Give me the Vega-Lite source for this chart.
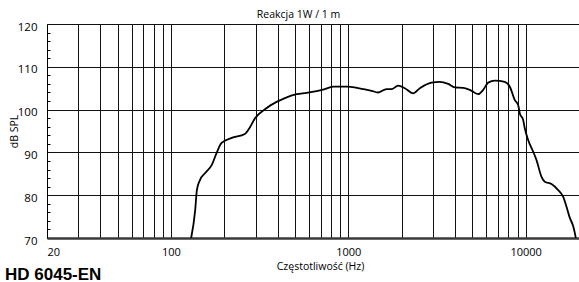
{
  "$schema": "https://vega.github.io/schema/vega-lite/v6.json",
  "width": 532,
  "height": 214,
  "autosize": {"type": "none"},
  "padding": {"left": 47, "top": 24, "right": 0, "bottom": 44},
  "background": "white",
  "title": {
    "text": "HD 6045-EN",
    "orient": "bottom",
    "anchor": "start",
    "frame": "group",
    "dx": -42,
    "offset": -5,
    "font": "Liberation Sans",
    "fontSize": 17,
    "fontWeight": "bold",
    "color": "#000000"
  },
  "data": {
    "values": [
      {"f": 130, "db": 70.0},
      {"f": 137, "db": 76.5},
      {"f": 140, "db": 81.2},
      {"f": 146, "db": 83.6},
      {"f": 156, "db": 85.2},
      {"f": 170, "db": 87.1},
      {"f": 181, "db": 89.9},
      {"f": 193, "db": 92.2},
      {"f": 220, "db": 93.4},
      {"f": 261, "db": 94.3},
      {"f": 279, "db": 95.9},
      {"f": 298, "db": 98.0},
      {"f": 339, "db": 100.1},
      {"f": 394, "db": 101.8},
      {"f": 439, "db": 102.7},
      {"f": 511, "db": 103.6},
      {"f": 582, "db": 103.9},
      {"f": 663, "db": 104.3},
      {"f": 722, "db": 104.65},
      {"f": 822, "db": 105.35},
      {"f": 995, "db": 105.35},
      {"f": 1213, "db": 104.8},
      {"f": 1353, "db": 104.4},
      {"f": 1468, "db": 104.0},
      {"f": 1644, "db": 104.8},
      {"f": 1754, "db": 104.8},
      {"f": 1911, "db": 105.6},
      {"f": 2084, "db": 105.0},
      {"f": 2322, "db": 103.8},
      {"f": 2533, "db": 105.0},
      {"f": 2948, "db": 106.3},
      {"f": 3284, "db": 106.5},
      {"f": 3658, "db": 106.0},
      {"f": 3990, "db": 105.2},
      {"f": 4444, "db": 105.1},
      {"f": 4847, "db": 104.6},
      {"f": 5400, "db": 103.6},
      {"f": 5761, "db": 104.6},
      {"f": 6148, "db": 106.3},
      {"f": 6708, "db": 106.75},
      {"f": 7633, "db": 106.45},
      {"f": 8147, "db": 105.35},
      {"f": 8693, "db": 102.2},
      {"f": 9073, "db": 101.1},
      {"f": 9276, "db": 99.1},
      {"f": 9682, "db": 97.6},
      {"f": 9898, "db": 95.6},
      {"f": 10333, "db": 92.9},
      {"f": 11025, "db": 90.2},
      {"f": 11520, "db": 88.2},
      {"f": 12292, "db": 84.3},
      {"f": 12830, "db": 83.15},
      {"f": 13996, "db": 82.6},
      {"f": 15251, "db": 81.2},
      {"f": 16274, "db": 79.65},
      {"f": 17009, "db": 77.3},
      {"f": 17754, "db": 74.7},
      {"f": 18532, "db": 72.8},
      {"f": 18942, "db": 71.2},
      {"f": 19192, "db": 70.0}
    ]
  },
  "layer": [
    {
      "mark": {"type": "line", "color": "#000000", "strokeWidth": 1.8, "interpolate": "monotone", "clip": true},
      "encoding": {
        "x": {
          "field": "f",
          "type": "quantitative",
          "scale": {"type": "log", "domain": [20, 20000], "nice": false},
          "axis": {
            "orient": "bottom",
            "title": "Częstotliwość (Hz)",
            "titleX": 273,
            "titlePadding": 4,
            "titleFontSize": 10.5,
            "titleFontWeight": "normal",
            "values": [20, 30, 40, 50, 60, 70, 80, 90, 100, 200, 300, 400, 500, 600, 700, 800, 900, 1000, 2000, 3000, 4000, 5000, 6000, 7000, 8000, 9000, 10000, 20000],
            "labelExpr": "datum.value == 20 || datum.value == 100 || datum.value == 1000 || datum.value == 10000 ? '' + datum.value : ''",
            "labelOverlap": false,
            "labelFlush": true,
            "labelPadding": 8,
            "labelFontSize": 11,
            "ticks": false,
            "grid": true,
            "gridColor": "#111111",
            "gridWidth": 1,
            "gridOpacity": 1,
            "domain": true,
            "domainColor": "#3a3a3a",
            "domainWidth": 2.5
          }
        },
        "y": {
          "field": "db",
          "type": "quantitative",
          "scale": {"domain": [70, 120], "nice": false, "zero": false},
          "axis": {
            "orient": "left",
            "title": "dB SPL",
            "titleFontSize": 10.5,
            "titleFontWeight": "normal",
            "titlePadding": -2,
            "values": [70, 80, 90, 100, 110, 120],
            "labelOverlap": false,
            "labelPadding": 10,
            "labelOffset": 3,
            "labelFontSize": 11.5,
            "ticks": false,
            "grid": true,
            "gridColor": "#111111",
            "gridWidth": 1,
            "gridOpacity": 1,
            "domain": true,
            "domainColor": "#000000",
            "domainWidth": 1
          }
        }
      }
    },
    {
      "mark": {"type": "line", "strokeOpacity": 0},
      "encoding": {
        "x": {
          "field": "f",
          "type": "quantitative",
          "axis": {
            "orient": "top",
            "title": "Reakcja 1W / 1 m",
            "titleX": 251,
            "titlePadding": 5,
            "titleFontSize": 10.5,
            "titleFontWeight": "normal",
            "labels": false,
            "ticks": false,
            "domain": false,
            "grid": false
          }
        },
        "y": {
          "field": "db",
          "type": "quantitative",
          "axis": {
            "orient": "left",
            "title": null,
            "values": [72, 74, 76, 78, 82, 84, 86, 88, 92, 94, 96, 98, 102, 104, 106, 108, 112, 114, 116, 118],
            "offset": -3,
            "tickSize": 3,
            "tickColor": "#000000",
            "tickWidth": 1,
            "labels": false,
            "domain": false,
            "grid": false
          }
        }
      }
    }
  ],
  "resolve": {"axis": {"x": "independent", "y": "independent"}},
  "config": {
    "view": {"stroke": null},
    "axis": {
      "labelFont": "Open Sans",
      "titleFont": "Open Sans",
      "labelColor": "#000000",
      "titleColor": "#000000"
    }
  }
}
